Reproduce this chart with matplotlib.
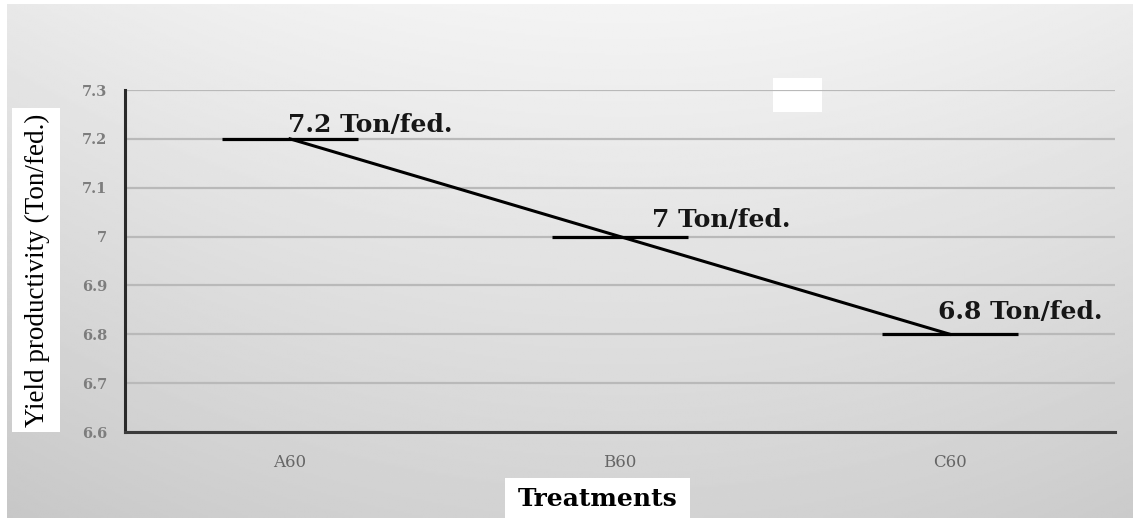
import numpy as np
import matplotlib.pyplot as plt
from matplotlib.patches import Rectangle

# yield per treatment (Ton/fed.)
treatments = ["A60", "B60", "C60"]
yields = [7.2, 7.0, 6.8]
value_labels = ["7.2 Ton/fed.", "7 Ton/fed.", "6.8 Ton/fed."]
y_ticks = [6.6, 6.7, 6.8, 6.9, 7.0, 7.1, 7.2, 7.3]
y_tick_labels = ["6.6", "6.7", "6.8", "6.9", "7", "7.1", "7.2", "7.3"]

W, H = 1133, 518
fig = plt.figure(figsize=(W / 100, H / 100), dpi=100)

# grey backdrop: lighter at the top centre, darker to the bottom and sides
bg = fig.add_axes([0, 0, 1, 1], zorder=-10)
yy, xx = np.mgrid[0:1:260j, 0:1:400j]
shade = 0.955 - 0.13 * yy - 0.045 * ((xx - 0.55) / 0.55) ** 2
bg.imshow(shade, cmap="gray", vmin=0, vmax=1, aspect="auto",
          extent=[0, 1, 0, 1], origin="upper")
bg.set_xlim(0, 1)
bg.set_ylim(0, 1)
bg.axis("off")
# thin white frame top and left
bg.add_patch(Rectangle((0, 1 - 4 / H), 1, 4 / H, facecolor="white", edgecolor="none"))
bg.add_patch(Rectangle((0, 0), 7 / W, 1, facecolor="white", edgecolor="none"))
# empty legend box
bg.add_patch(Rectangle((773 / W, 1 - 112 / H), 49 / W, 34 / H,
                       facecolor="white", edgecolor="none"))
# white boxes behind the axis titles
bg.add_patch(Rectangle((12 / W, 1 - 432 / H), 48 / W, 324 / H,
                       facecolor="white", edgecolor="none"))
bg.add_patch(Rectangle((505 / W, 0), 185 / W, 40 / H,
                       facecolor="white", edgecolor="none"))

ax = fig.add_axes([125 / W, 1 - 432 / H, 990 / W, 342 / H])
ax.patch.set_alpha(0)

x = np.arange(len(treatments))
ax.plot(x, yields, color="black", linewidth=2.2, marker="_",
        markersize=98, markeredgewidth=2.3, zorder=3)

offsets = [(-0.006, 0.014), (0.097, 0.020), (-0.036, 0.031)]
for i in range(len(yields)):
    ax.text(x[i] + offsets[i][0], yields[i] + offsets[i][1], value_labels[i],
            family="DejaVu Serif", fontweight="bold", fontsize=18,
            ha="left", va="baseline", color="#161616")

ax.set_xlim(-0.5, 2.5)
ax.set_ylim(6.6, 7.3)
ax.set_yticks(y_ticks)
ax.set_yticklabels(y_tick_labels, family="DejaVu Serif", fontsize=10.5,
                   fontweight="bold", color="#7d7d7d")
ax.set_xticks(x)
ax.set_xticklabels(treatments, family="DejaVu Serif", fontsize=12,
                   color="#666666")
ax.tick_params(length=0)
ax.tick_params(axis="y", pad=13)
ax.tick_params(axis="x", pad=16)
ax.grid(axis="y", color="#b9b9b9", linewidth=1.6)
ax.set_axisbelow(True)

for s in ["top", "right"]:
    ax.spines[s].set_visible(False)
ax.spines["left"].set_color("#2a2a2a")
ax.spines["left"].set_linewidth(2.2)
ax.spines["bottom"].set_color("#3a3a3a")
ax.spines["bottom"].set_linewidth(2.2)

fig.text(37 / W, 1 - 270 / H, "Yield productivity (Ton/fed.)",
         family="Liberation Serif", fontsize=19.5, rotation=90,
         ha="center", va="center", color="black")
fig.text(598 / W, 1 - 499 / H, "Treatments", family="DejaVu Serif",
         fontsize=18, fontweight="bold", ha="center", va="center",
         color="black")

fig.savefig("out.png", dpi=100)
